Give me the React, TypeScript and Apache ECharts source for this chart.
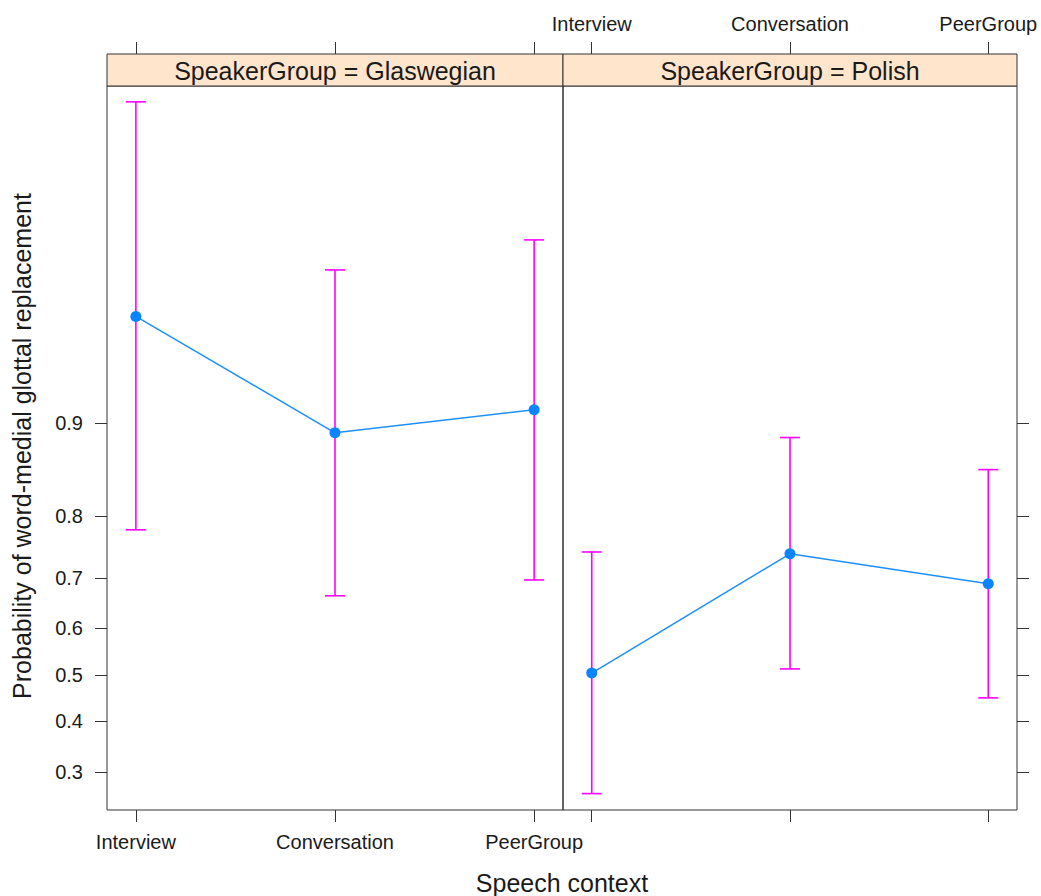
import React, { useEffect, useRef } from "react";
import * as echarts from "echarts";

const categories = ["Interview", "Conversation", "PeerGroup"];
const panelNames = ["SpeakerGroup = Glaswegian", "SpeakerGroup = Polish"];
const glaswegianFit = [0.958, 0.892, 0.910];
const glaswegianLower = [0.780, 0.666, 0.696];
const glaswegianUpper = [0.9933, 0.9716, 0.978];
const polishFit = [0.504, 0.742, 0.689];
const polishLower = [0.262, 0.513, 0.450];
const polishUpper = [0.745, 0.888, 0.857];
const yTicks = [0.3, 0.4, 0.5, 0.6, 0.7, 0.8, 0.9];
const xTitle = "Speech context";
const yTitle = "Probability of word-medial glottal replacement";

const logit = (p: number) => Math.log(p / (1 - p));
const invlogit = (v: number) => 1 / (1 + Math.exp(-v));

const FONT = "'Liberation Sans', Arial, Helvetica, sans-serif";
const AX = "#333333";

export default function App() {
  const ref = useRef<HTMLDivElement>(null);
  useEffect(() => {
    document.body.style.margin = "0";
    if (!ref.current) return;
    const chart = echarts.init(ref.current, undefined, { renderer: "svg" });

    const xMin = 0.855;
    const xMax = 3.145;
    const yMin = -1.1786;
    const yMax = 5.137;
    const xCustom = [1, 2, 3];
    const yCustom = yTicks.map(logit);

    const grids = [
      { left: 107, top: 86, width: 456, height: 724 },
      { left: 563, top: 86, width: 454, height: 724 },
    ];

    const xAxisBase = (gridIndex: number, position: string, showLabel: boolean, offset: number) => ({
      type: "value",
      gridIndex,
      position,
      offset,
      min: xMin,
      max: xMax,
      splitLine: { show: false },
      axisLine: { show: false, onZero: false },
      axisTick: {
        show: true,
        inside: false,
        length: 12,
        customValues: xCustom,
        lineStyle: { color: AX, width: 1 },
      },
      axisLabel: {
        show: showLabel,
        customValues: xCustom,
        margin: position === "bottom" ? 22 : 20,
        fontSize: 20,
        fontFamily: FONT,
        color: "#1a1a1a",
        formatter: (v: number) => categories[Math.round(v) - 1] ?? "",
      },
    });

    const yAxisBase = (gridIndex: number, position: string, showLabel: boolean) => ({
      type: "value",
      gridIndex,
      position,
      min: yMin,
      max: yMax,
      splitLine: { show: false },
      axisLine: { show: false, onZero: false },
      axisTick: {
        show: true,
        inside: false,
        length: 12,
        customValues: yCustom,
        lineStyle: { color: AX, width: 1 },
      },
      axisLabel: {
        show: showLabel,
        customValues: yCustom,
        margin: 24,
        fontSize: 20,
        fontFamily: FONT,
        color: "#1a1a1a",
        formatter: (v: number) => invlogit(v).toFixed(1),
      },
    });

    const panels = [
      { fit: glaswegianFit, lo: glaswegianLower, hi: glaswegianUpper },
      { fit: polishFit, lo: polishLower, hi: polishUpper },
    ];

    const series: any[] = [];
    panels.forEach((p, i) => {
      series.push({
        type: "custom",
        xAxisIndex: i * 2,
        yAxisIndex: i,
        z: 2,
        encode: { x: 0, y: [1, 2] },
        data: categories.map((_, k) => [k + 1, logit(p.lo[k]), logit(p.hi[k])]),
        renderItem: (params: any, api: any) => {
          const x = api.value(0);
          const top = api.coord([x, api.value(2)]);
          const bot = api.coord([x, api.value(1)]);
          const cap = 10;
          const style = { stroke: "#ff00ff", lineWidth: 1.6, fill: "none" };
          return {
            type: "group",
            children: [
              { type: "line", shape: { x1: top[0], y1: top[1], x2: bot[0], y2: bot[1] }, style },
              { type: "line", shape: { x1: top[0] - cap, y1: top[1], x2: top[0] + cap, y2: top[1] }, style },
              { type: "line", shape: { x1: bot[0] - cap, y1: bot[1], x2: bot[0] + cap, y2: bot[1] }, style },
            ],
          };
        },
      });
      series.push({
        type: "line",
        xAxisIndex: i * 2,
        yAxisIndex: i,
        z: 3,
        data: categories.map((_, k) => [k + 1, logit(p.fit[k])]),
        symbol: "circle",
        symbolSize: 11,
        lineStyle: { color: "#1e90ff", width: 1.5 },
        itemStyle: { color: "#0a84ff" },
      });
    });

    const graphic: any[] = [];
    grids.forEach((g, i) => {
      graphic.push({
        type: "rect",
        shape: { x: g.left, y: 54, width: g.width, height: 32 },
        style: { fill: "#ffe5cc", stroke: AX, lineWidth: 1 },
        z: 10,
      });
      graphic.push({
        type: "text",
        x: g.left + g.width / 2,
        y: 71,
        style: {
          text: panelNames[i],
          align: "center",
          verticalAlign: "middle",
          font: `25px ${FONT}`,
          fill: "#1a1a1a",
        },
        z: 11,
      });
    });
    graphic.push({
      type: "text",
      x: 562,
      y: 883,
      style: { text: xTitle, align: "center", verticalAlign: "middle", font: `25px ${FONT}`, fill: "#1a1a1a" },
    });
    graphic.push({
      type: "text",
      x: 22,
      y: 446,
      rotation: Math.PI / 2,
      style: { text: yTitle, align: "center", verticalAlign: "middle", font: `25px ${FONT}`, fill: "#1a1a1a" },
    });

    chart.setOption({
      animation: false,
      backgroundColor: "#ffffff",
      grid: grids.map((g) => ({ ...g, show: true, borderColor: AX, borderWidth: 1, backgroundColor: "transparent" })),
      xAxis: [
        xAxisBase(0, "bottom", true, 0),
        xAxisBase(0, "top", false, 32),
        xAxisBase(1, "bottom", false, 0),
        xAxisBase(1, "top", true, 32),
      ],
      yAxis: [yAxisBase(0, "left", true), yAxisBase(1, "right", false)],
      series,
      graphic,
    });
    return () => chart.dispose();
  }, []);
  return <div ref={ref} style={{ width: 1041, height: 896 }} />;
}
